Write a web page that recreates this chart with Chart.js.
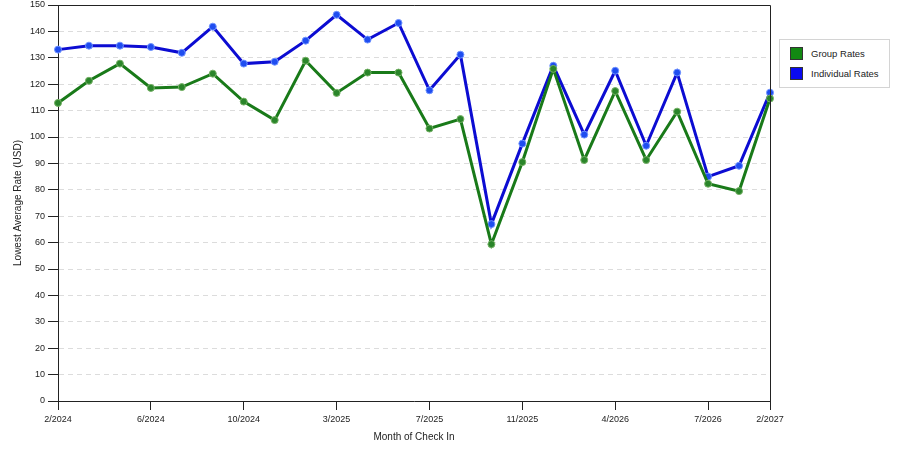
<!DOCTYPE html>
<html>
<head>
<meta charset="utf-8">
<title>Lowest Average Rate</title>
<script src="https://cdn.jsdelivr.net/npm/chart.js@4/dist/chart.umd.min.js"></script>
<style>
    body { margin: 0; background: #fff; }
    #wrap { position: relative; width: 900px; height: 450px; }
    #legend {
        position: absolute; left: 779px; top: 39px; width: 109px; height: 47px;
        border: 1px solid #d4d4d4; background: #fff;
        font: 9.5px "Liberation Sans", Arial, sans-serif; color: #222;
    }
    .item { position: absolute; left: 10px; height: 13px; line-height: 13px; }
    .swatch { position: absolute; left: 0; top: 0; width: 11px; height: 11px; border: 1px solid #333; }
    .label { position: absolute; left: 21px; top: 0; white-space: nowrap; }
</style>
</head>
<body>
<div id="wrap">
    <canvas id="rate-chart" width="900" height="450"></canvas>
    <div id="legend"></div>
</div>
<script>
// Months on the x axis (only some of them get a tick label)
const months = [
    '2/2024', '3/2024', '4/2024', '6/2024', '7/2024', '8/2024',
    '10/2024', '11/2024', '1/2025', '3/2025', '4/2025', '5/2025',
    '7/2025', '8/2025', '9/2025', '11/2025', '12/2025', '2/2026',
    '4/2026', '5/2026', '6/2026', '7/2026', '9/2026', '2/2027'
];
const tickLabels = ['2/2024', '6/2024', '10/2024', '3/2025', '7/2025', '11/2025', '4/2026', '7/2026', '2/2027'];

// Lowest average rate per month (USD)
const groupRates = [
    112.9, 121.3, 127.8, 118.6, 118.9, 124.0, 113.4, 106.4, 128.9, 116.7, 124.4, 124.4,
    103.2, 106.8, 59.4, 90.5, 125.8, 91.3, 117.4, 91.3, 109.6, 82.3, 79.5, 114.6
];
const individualRates = [
    133.1, 134.6, 134.6, 134.1, 131.9, 141.8, 127.8, 128.5, 136.5, 146.3, 136.9, 143.2,
    117.7, 131.2, 67.0, 97.5, 127.0, 100.9, 125.1, 96.7, 124.4, 85.0, 89.1, 116.8
];

const seriesNames = ['Group Rates', 'Individual Rates'];
const lineColors = ['#197a19', '#0c0cd2'];
const swatchColors = ['#128812', '#0a0af0'];

const FONT = '"Liberation Sans", Arial, sans-serif';

function isTickShown(index) {
    return tickLabels.includes(months[index]);
}

// Box around the plot area (top and right edges)
const frame = {
    id: 'frame',
    afterDraw(chart) {
        const { ctx, chartArea: a } = chart;
        ctx.save();
        ctx.strokeStyle = '#222';
        ctx.lineWidth = 1;
        ctx.beginPath();
        ctx.moveTo(a.left, a.top + 0.5);
        ctx.lineTo(a.right + 0.5, a.top + 0.5);
        ctx.lineTo(a.right + 0.5, a.bottom);
        ctx.stroke();
        ctx.restore();
    }
};

const ctx = document.getElementById('rate-chart').getContext('2d');
new Chart(ctx, {
    type: 'line',
    data: {
        labels: months,
        datasets: [
            {
                label: seriesNames[0],
                data: groupRates,
                borderColor: lineColors[0],
                borderWidth: 3,
                pointRadius: 3.5,
                pointBackgroundColor: '#2a852a',
                pointBorderColor: '#74b064',
                pointBorderWidth: 1,
                tension: 0
            },
            {
                label: seriesNames[1],
                data: individualRates,
                borderColor: lineColors[1],
                borderWidth: 3,
                pointRadius: 3.5,
                pointBackgroundColor: '#1f4df0',
                pointBorderColor: '#6f93ff',
                pointBorderWidth: 1,
                tension: 0
            }
        ]
    },
    options: {
        responsive: false,
        animation: false,
        layout: { padding: { top: 5, right: 130, left: 0, bottom: 0 } },
        plugins: {
            legend: { display: false },
            tooltip: { enabled: false }
        },
        scales: {
            x: {
                offset: false,
                afterFit: (scale) => {
                    scale.height = 49;
                    scale.paddingLeft = 0;
                    scale.paddingRight = 0;
                },
                grid: {
                    drawOnChartArea: false,
                    tickLength: 9,
                    tickColor: (c) => isTickShown(c.index) ? '#222' : 'rgba(0,0,0,0)'
                },
                border: { color: '#222', width: 1 },
                ticks: {
                    autoSkip: false,
                    maxRotation: 0,
                    padding: 4,
                    color: '#222',
                    font: { family: FONT, size: 9 },
                    callback: function (value, index) {
                        return isTickShown(index) ? months[index] : '';
                    }
                },
                title: {
                    display: true,
                    text: 'Month of Check In',
                    color: '#222',
                    font: { family: FONT, size: 10 },
                    padding: { top: 0, bottom: 7 }
                }
            },
            y: {
                min: 0,
                max: 150,
                afterFit: (scale) => {
                    scale.width = 58;
                    scale.paddingTop = 0;
                    scale.paddingBottom = 0;
                },
                grid: {
                    color: '#dcdcdc',
                    tickColor: '#222',
                    tickLength: 10,
                    tickBorderDash: []
                },
                border: { color: '#222', width: 1, dash: [5, 4] },
                ticks: {
                    stepSize: 10,
                    padding: 3,
                    color: '#222',
                    font: { family: FONT, size: 9 }
                },
                title: {
                    display: true,
                    text: 'Lowest Average Rate (USD)',
                    color: '#222',
                    font: { family: FONT, size: 10 },
                    padding: { top: 12, bottom: 0 }
                }
            }
        }
    },
    plugins: [frame]
});

// Legend box on the right
const legend = document.getElementById('legend');
seriesNames.forEach(function (name, i) {
    const item = document.createElement('div');
    item.className = 'item';
    item.style.top = (7 + i * 20) + 'px';
    item.innerHTML = '<span class="swatch" style="background:' + swatchColors[i] + '"></span>' +
        '<span class="label">' + name + '</span>';
    legend.appendChild(item);
});
</script>
</body>
</html>
